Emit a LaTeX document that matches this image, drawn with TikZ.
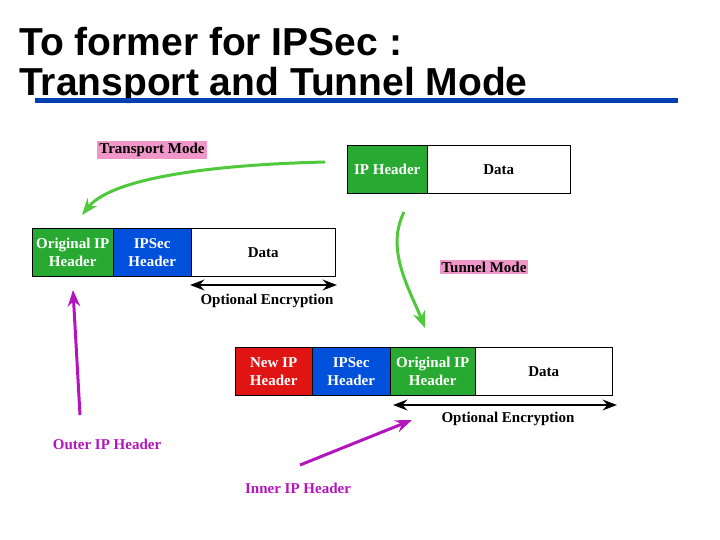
\documentclass[tikz,border=0pt]{standalone}
\usepackage{fontspec}
\setmainfont{Liberation Serif}
\newfontfamily\titlefont{Liberation Sans}
\usetikzlibrary{arrows.meta}
\definecolor{gr}{RGB}{40,170,50}
\definecolor{bl}{RGB}{0,80,220}
\definecolor{rd}{RGB}{225,20,20}
\definecolor{pk}{RGB}{240,150,200}
\definecolor{pu}{RGB}{180,20,190}
\definecolor{lg}{RGB}{80,200,60}
\tikzset{
 fld/.style={draw=black,minimum height=48pt,inner sep=0pt,align=center,text=white,font=\bfseries\fontsize{15}{18}\selectfont},
 dat/.style={fld,fill=white,text=black},
 lbl/.style={font=\bfseries\fontsize{15}{18}\selectfont},
 tag/.style={lbl,fill=pk,inner sep=2pt},
 enc/.style={{Stealth}-{Stealth},line width=2.5pt},
 garr/.style={-{Stealth},draw=lg,line width=3pt},
 parr/.style={-{Stealth},draw=pu,line width=3pt},
 ttl/.style={anchor=west,font=\titlefont\bfseries\fontsize{39}{44}\selectfont,inner sep=0pt}}
\begin{document}
\begin{tikzpicture}[x=1pt,y=-1pt]
\useasboundingbox (0,0) rectangle (720,540);
\node[ttl] (t1) at (19,42) {To former for IPSec :};
\node[ttl] (t2) at (19,85) {Transport and Tunnel Mode};
\draw[bl!80!black,line width=5pt] (35,101) coordinate (u1) -- (678,101) coordinate (u2);
\node[tag] (tm) at (152,150) {Transport Mode};
\node[fld,fill=gr,minimum width=80pt,anchor=north west] (ih) at (347,145) {IP Header};
\node[dat,minimum width=143pt,anchor=north west] (id) at (427,145) {Data};
\node[fld,fill=gr,minimum width=81pt,anchor=north west] (a1) at (32,228) {Original IP\\Header};
\node[fld,fill=bl,minimum width=78pt,anchor=north west] (a2) at (113,228) {IPSec\\Header};
\node[dat,minimum width=144pt,anchor=north west] (a3) at (191,228) {Data};
\coordinate (e1) at (190,285); \coordinate (e2) at (337,285);
\draw[enc] (e1) -- (e2);
\node[lbl] (o1) at (267,301) {Optional Encryption};
\node[tag] (tu) at (484,267) {Tunnel Mode};
\node[fld,fill=rd,minimum width=77pt,anchor=north west] (b1) at (235,347) {New IP\\Header};
\node[fld,fill=bl,minimum width=78pt,anchor=north west] (b2) at (312,347) {IPSec\\Header};
\node[fld,fill=gr,minimum width=85pt,anchor=north west] (b3) at (390,347) {Original IP\\Header};
\node[dat,minimum width=137pt,anchor=north west] (b4) at (475,347) {Data};
\coordinate (f1) at (393,405); \coordinate (f2) at (617,405);
\draw[enc] (f1) -- (f2);
\node[lbl] (o2) at (508,419) {Optional Encryption};
\coordinate (g1s) at (325,162); \coordinate (g1e) at (82,215);
\draw[garr] (g1s) .. controls (200,165) and (110,180) .. (g1e);
\coordinate (g2s) at (404,212); \coordinate (g2e) at (425,328);
\draw[garr] (g2s) .. controls (385,250) and (410,290) .. (g2e);
\node[lbl,text=pu] (oh) at (107,444) {Outer IP Header};
\node[lbl,text=pu] (inh) at (298,488) {Inner IP Header};
\coordinate (p1s) at (80,415); \coordinate (p1e) at (73,290);
\draw[parr] (p1s) -- (p1e);
\coordinate (p2s) at (300,465); \coordinate (p2e) at (412,420);
\draw[parr] (p2s) -- (p2e);
\end{tikzpicture}
\end{document}
